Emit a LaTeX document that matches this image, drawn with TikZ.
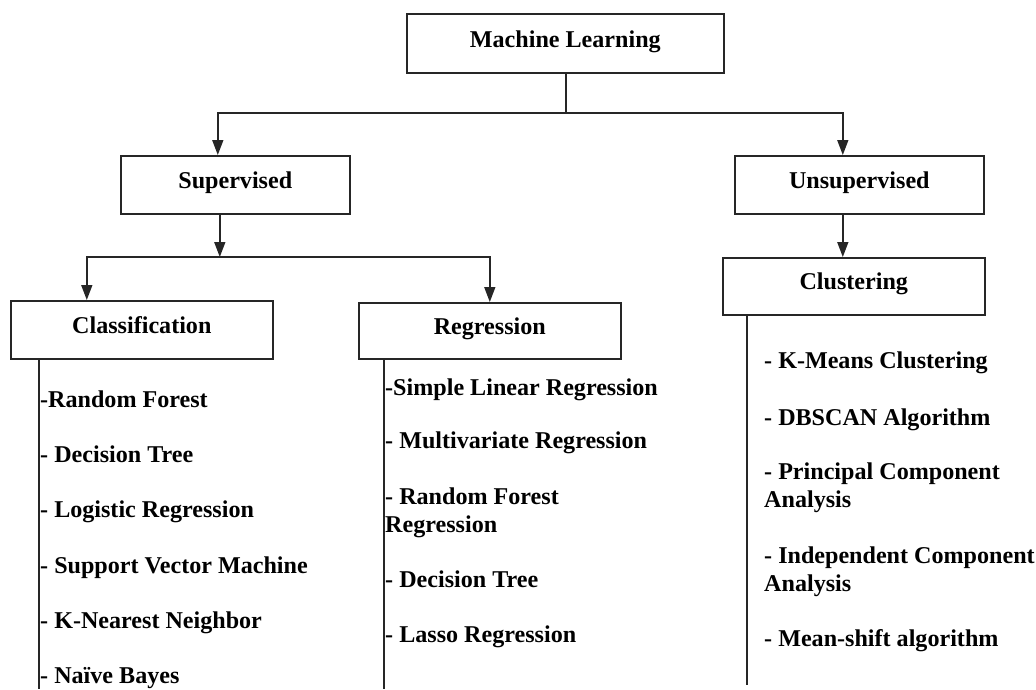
\documentclass[tikz,border=0pt]{standalone}
\usepackage{fontspec}
\setmainfont{Liberation Serif}
\usetikzlibrary{arrows.meta}
\begin{document}
\begin{tikzpicture}[x=1pt,y=-1pt,
  ln/.style={line width=1.6pt, draw=black!85},
  arr/.style={ln, -{Triangle[length=15pt,width=11pt]}},
  box/.style={draw=black!85, line width=1.6pt, anchor=north west, inner sep=0pt,
    font=\fontsize{24.1}{28}\selectfont\bfseries},
  item/.style={anchor=base west, inner sep=0pt, align=left,
    font=\fontsize{24.1}{28}\selectfont\bfseries}]
\useasboundingbox (0,0) rectangle (1036,689);
% boxes
\node[box, minimum width=317pt, text height=34pt, text depth=25pt] (ml) at (406,13) {Machine Learning};
\node[box, minimum width=229pt, text height=33pt, text depth=25pt] (sup) at (120,155) {Supervised};
\node[box, minimum width=249pt, text height=33pt, text depth=25pt] (uns) at (734,155) {Unsupervised};
\node[box, minimum width=262pt, text height=33pt, text depth=25pt] (cls) at (10,300) {Classification};
\node[box, minimum width=262pt, text height=32pt, text depth=24pt] (reg) at (358,302) {Regression};
\node[box, minimum width=262pt, text height=32pt, text depth=25pt] (clu) at (722,257) {Clustering};
% connectors
\path ([xshift=0.5pt]ml.south) coordinate (m1);
\coordinate (j1) at (565,113);
\path ([xshift=-15.5pt]sup.south) coordinate (s1);
\coordinate (j2) at (s1 |- clu.north);
\draw[ln] (m1) -- (m1 |- j1);
\draw[arr] (m1 |- j1) -| ([xshift=-17.5pt]sup.north);
\draw[arr] (m1 |- j1) -| ([xshift=-16.5pt]uns.north);
\draw[arr] (s1) -- (j2);
\draw[arr] (j2) -| ([xshift=-55pt]cls.north);
\draw[arr] (j2) -| (reg.north);
\draw[arr] ([xshift=-16.5pt]uns.south) -- ([xshift=-16.5pt]uns.south |- clu.north);
% stems
\coordinate (e1) at (39,689);
\coordinate (e2) at (384,689);
\coordinate (e3) at (747,685);
\draw[ln] (cls.south -| e1) -- (e1);
\draw[ln] (reg.south -| e2) -- (e2);
\draw[ln] (clu.south -| e3) -- (e3);
% classification items
\node[item] (c1) at (40,407) {-Random Forest};
\node[item] (c2) at (40,462) {- Decision Tree};
\node[item] (c3) at (40,517) {- Logistic Regression};
\node[item] (c4) at (40,573) {- Support Vector Machine};
\node[item] (c5) at (40,628) {- K-Nearest Neighbor};
\node[item] (c6) at (40,683) {- Naïve Bayes};
% regression items
\node[item] (r1) at (385,395) {-Simple Linear Regression};
\node[item] (r2) at (385,448) {- Multivariate Regression};
\node[item] (r3) at (385,532) {- Random Forest\\Regression};
\node[item] (r4) at (385,587) {- Decision Tree};
\node[item] (r5) at (385,642) {- Lasso Regression};
% clustering items
\node[item] (k1) at (764,368) {- K-Means Clustering};
\node[item] (k2) at (764,425) {- DBSCAN Algorithm};
\node[item] (k3) at (764,507) {- Principal Component\\Analysis};
\node[item] (k4) at (764,591) {- Independent Component\\Analysis};
\node[item] (k5) at (764,646) {- Mean-shift algorithm};
\end{tikzpicture}
\end{document}
